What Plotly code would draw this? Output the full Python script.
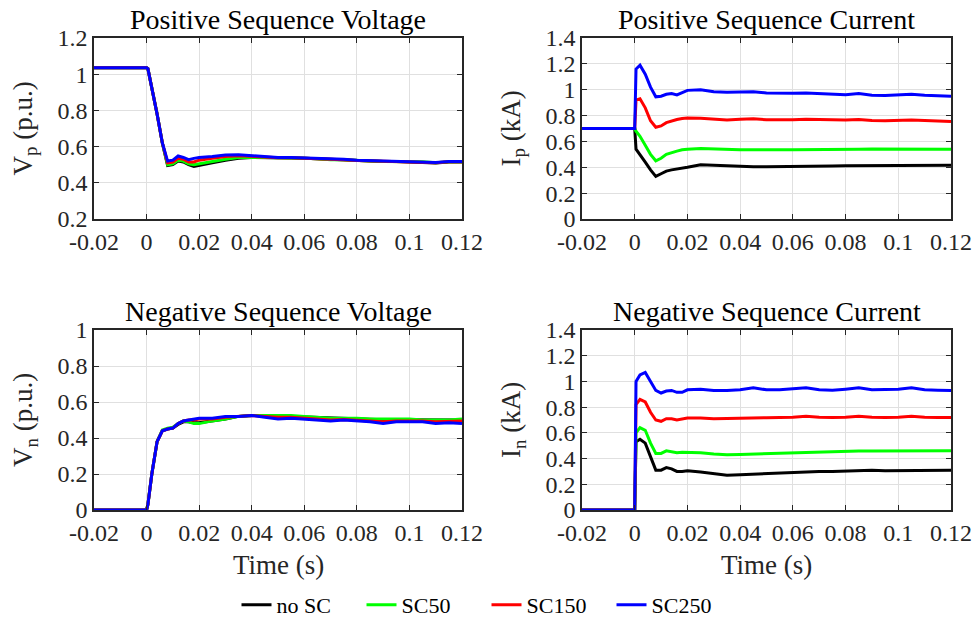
import plotly.graph_objects as go

# ---- data ----
t = [-0.02, 0.0, 0.0005, 0.002, 0.004, 0.006, 0.008, 0.010, 0.012, 0.014, 0.016, 0.018,
     0.020, 0.025, 0.030, 0.035, 0.040, 0.045, 0.050, 0.055, 0.060, 0.065, 0.070, 0.075,
     0.080, 0.085, 0.090, 0.095, 0.100, 0.105, 0.110, 0.115, 0.120]

x_tickvals = [-0.02, 0, 0.02, 0.04, 0.06, 0.08, 0.1, 0.12]
x_ticktext = ["-0.02", "0", "0.02", "0.04", "0.06", "0.08", "0.1", "0.12"]

series_names = ["no SC", "SC50", "SC150", "SC250"]
series_colors = ["#000000", "#00ff00", "#ff0000", "#0000ff"]

vp_noSC = [1.035, 1.035, 1.03, 0.93, 0.78, 0.62, 0.495, 0.50, 0.52, 0.515, 0.50, 0.49,
           0.495, 0.51, 0.525, 0.535, 0.54, 0.54, 0.537, 0.537, 0.535, 0.532, 0.527, 0.527,
           0.522, 0.52, 0.517, 0.517, 0.515, 0.515, 0.51, 0.515, 0.515]
vp_sc50 = [1.035, 1.035, 1.03, 0.93, 0.78, 0.62, 0.50, 0.505, 0.525, 0.52, 0.505, 0.50,
           0.505, 0.52, 0.53, 0.54, 0.542, 0.54, 0.538, 0.538, 0.536, 0.533, 0.528, 0.528,
           0.523, 0.521, 0.518, 0.518, 0.516, 0.516, 0.511, 0.516, 0.516]
vp_sc150 = [1.035, 1.035, 1.03, 0.93, 0.78, 0.62, 0.51, 0.515, 0.535, 0.53, 0.515, 0.515,
            0.525, 0.535, 0.545, 0.55, 0.545, 0.542, 0.538, 0.538, 0.536, 0.533, 0.528, 0.528,
            0.523, 0.521, 0.518, 0.518, 0.516, 0.516, 0.511, 0.516, 0.516]
vp_sc250 = [1.035, 1.035, 1.03, 0.93, 0.78, 0.62, 0.52, 0.525, 0.548, 0.54, 0.528, 0.535,
            0.54, 0.545, 0.553, 0.555, 0.55, 0.545, 0.54, 0.54, 0.538, 0.535, 0.53, 0.53,
            0.525, 0.523, 0.52, 0.52, 0.518, 0.518, 0.512, 0.518, 0.518]

ip_noSC = [0.70, 0.70, 0.54, 0.50, 0.44, 0.38, 0.33, 0.35, 0.37, 0.38, 0.385, 0.395,
           0.40, 0.42, 0.415, 0.41, 0.41, 0.405, 0.405, 0.405, 0.41, 0.41, 0.41, 0.41,
           0.412, 0.413, 0.415, 0.415, 0.415, 0.415, 0.415, 0.415, 0.415]
ip_sc50 = [0.70, 0.70, 0.68, 0.64, 0.57, 0.50, 0.45, 0.47, 0.50, 0.515, 0.525, 0.535,
           0.54, 0.545, 0.54, 0.535, 0.535, 0.535, 0.533, 0.535, 0.535, 0.535, 0.537, 0.537,
           0.54, 0.54, 0.542, 0.542, 0.545, 0.545, 0.543, 0.542, 0.54]
ip_sc150 = [0.70, 0.70, 0.92, 0.93, 0.86, 0.76, 0.71, 0.72, 0.745, 0.76, 0.77, 0.778,
            0.782, 0.78, 0.77, 0.765, 0.772, 0.775, 0.768, 0.765, 0.767, 0.772, 0.768, 0.765,
            0.765, 0.77, 0.762, 0.76, 0.765, 0.765, 0.762, 0.76, 0.755]
ip_sc250 = [0.70, 0.70, 1.16, 1.19, 1.12, 1.02, 0.945, 0.95, 0.965, 0.97, 0.96, 0.98,
            0.995, 1.0, 0.985, 0.98, 0.983, 0.985, 0.975, 0.972, 0.972, 0.975, 0.97, 0.962,
            0.962, 0.97, 0.958, 0.955, 0.96, 0.965, 0.958, 0.955, 0.95]

vn_noSC = [0.0, 0.0, 0.03, 0.20, 0.38, 0.44, 0.45, 0.455, 0.475, 0.49, 0.49, 0.485,
           0.485, 0.495, 0.505, 0.52, 0.525, 0.525, 0.522, 0.522, 0.52, 0.515, 0.512, 0.51,
           0.508, 0.505, 0.502, 0.502, 0.502, 0.5, 0.5, 0.5, 0.50]
vn_sc50 = [0.0, 0.0, 0.03, 0.20, 0.38, 0.445, 0.455, 0.46, 0.48, 0.495, 0.49, 0.48,
           0.48, 0.495, 0.505, 0.52, 0.525, 0.525, 0.525, 0.525, 0.52, 0.515, 0.51, 0.51,
           0.51, 0.505, 0.505, 0.505, 0.505, 0.5, 0.5, 0.5, 0.505]
vn_sc150 = [0.0, 0.0, 0.03, 0.20, 0.38, 0.44, 0.45, 0.455, 0.48, 0.495, 0.50, 0.50,
            0.505, 0.505, 0.515, 0.52, 0.525, 0.52, 0.515, 0.515, 0.51, 0.505, 0.5, 0.503,
            0.5, 0.497, 0.49, 0.495, 0.495, 0.495, 0.49, 0.493, 0.495]
vn_sc250 = [0.0, 0.0, 0.03, 0.20, 0.38, 0.44, 0.45, 0.455, 0.48, 0.495, 0.50, 0.505,
            0.51, 0.51, 0.52, 0.52, 0.525, 0.515, 0.505, 0.51, 0.505, 0.50, 0.495, 0.50,
            0.495, 0.49, 0.48, 0.49, 0.49, 0.49, 0.48, 0.485, 0.48]

in_noSC = [0.0, 0.0, 0.53, 0.55, 0.52, 0.42, 0.31, 0.31, 0.33, 0.32, 0.30, 0.30,
           0.305, 0.295, 0.28, 0.27, 0.275, 0.28, 0.28, 0.285, 0.29, 0.295, 0.30, 0.30,
           0.305, 0.305, 0.31, 0.305, 0.305, 0.305, 0.308, 0.31, 0.31]
in_sc50 = [0.0, 0.0, 0.60, 0.64, 0.62, 0.52, 0.44, 0.44, 0.46, 0.455, 0.445, 0.45,
           0.45, 0.445, 0.435, 0.43, 0.432, 0.435, 0.44, 0.44, 0.445, 0.45, 0.452, 0.455,
           0.458, 0.458, 0.458, 0.458, 0.458, 0.458, 0.46, 0.46, 0.46]
in_sc150 = [0.0, 0.0, 0.82, 0.86, 0.84, 0.76, 0.70, 0.69, 0.71, 0.71, 0.70, 0.705,
            0.715, 0.715, 0.71, 0.712, 0.715, 0.72, 0.718, 0.72, 0.722, 0.73, 0.722, 0.72,
            0.722, 0.73, 0.722, 0.72, 0.722, 0.73, 0.722, 0.72, 0.72]
in_sc250 = [0.0, 0.0, 1.00, 1.05, 1.07, 1.00, 0.93, 0.91, 0.925, 0.93, 0.915, 0.915,
            0.935, 0.94, 0.93, 0.93, 0.935, 0.95, 0.935, 0.935, 0.94, 0.95, 0.935, 0.932,
            0.94, 0.95, 0.935, 0.935, 0.94, 0.95, 0.935, 0.932, 0.93]

panels = [
    ("Positive Sequence Voltage", "V<sub>p</sub> (p.u.)", [vp_noSC, vp_sc50, vp_sc150, vp_sc250], [0.2, 1.2]),
    ("Positive Sequence Current", "I<sub>p</sub> (kA)", [ip_noSC, ip_sc50, ip_sc150, ip_sc250], [0, 1.4]),
    ("Negative Sequence Voltage", "V<sub>n</sub> (p.u.)", [vn_noSC, vn_sc50, vn_sc150, vn_sc250], [0, 1.0]),
    ("Negative Sequence Current", "I<sub>n</sub> (kA)", [in_noSC, in_sc50, in_sc150, in_sc250], [0, 1.4]),
]

W, H = 973, 618
FONT = "Liberation Serif"
TXT = "#262626"
# plot-area pixel boxes (left, right, top, bottom)
boxes = [(94, 462, 38, 219), (582, 951, 38, 219), (94, 462, 330, 510), (582, 951, 330, 510)]

fig = go.Figure()
annotations = []
for i, (title, ytitle, data, yr) in enumerate(panels):
    l, r, tp, b = boxes[i]
    xa = "xaxis" if i == 0 else f"xaxis{i+1}"
    ya = "yaxis" if i == 0 else f"yaxis{i+1}"
    xref = "x" if i == 0 else f"x{i+1}"
    yref = "y" if i == 0 else f"y{i+1}"
    for k in range(4):
        fig.add_trace(go.Scatter(
            x=t, y=data[k], mode="lines", name=series_names[k],
            line=dict(color=series_colors[k], width=3),
            xaxis=xref, yaxis=yref, showlegend=(i == 0),
        ))
    axis_common = dict(
        showline=True, mirror="ticks", linecolor=TXT, linewidth=1.5,
        ticks="inside", ticklen=5, tickcolor=TXT, automargin=False,
        showgrid=True, gridcolor="#e0e0e0", gridwidth=1, zeroline=False,
        tickfont=dict(family=FONT, size=24, color=TXT),
    )
    fig.update_layout({
        xa: dict(axis_common, domain=[l / W, r / W], range=[-0.02, 0.12],
                 tickmode="array", tickvals=x_tickvals, ticktext=x_ticktext, anchor=yref),
        ya: dict(axis_common, domain=[1 - b / H, 1 - tp / H], range=yr, dtick=0.2,
                 tick0=0, anchor=xref, tickformat="~g"),
    })
    annotations.append(dict(
        text=title, x=(l + r) / 2 / W, y=1 - (tp - 19) / H, xref="paper", yref="paper",
        xanchor="center", yanchor="middle", showarrow=False,
        font=dict(family=FONT, size=28, color="#000000")))
    annotations.append(dict(
        text=ytitle, x=(l - 69) / W, y=1 - (tp + b) / 2 / H, xref="paper", yref="paper",
        xanchor="center", yanchor="middle", textangle=-90, showarrow=False,
        font=dict(family=FONT, size=27, color=TXT)))
    if i >= 2:
        annotations.append(dict(
            text="Time (s)", x=(l + r) / 2 / W, y=1 - 565 / H, xref="paper", yref="paper",
            xanchor="center", yanchor="middle", showarrow=False,
            font=dict(family=FONT, size=27, color=TXT)))

fig.update_layout(
    width=W, height=H, margin=dict(l=0, r=0, t=0, b=0, autoexpand=False),
    paper_bgcolor="white", plot_bgcolor="white",
    annotations=annotations,
    legend=dict(orientation="h", x=0.5, xanchor="center", y=1 - 605 / H, yanchor="middle",
                font=dict(family=FONT, size=22, color="#000000"),
                bgcolor="rgba(0,0,0,0)", entrywidth=80, entrywidthmode="pixels",
                tracegroupgap=0),
    font=dict(family=FONT, color=TXT),
)

fig.write_html("out.html")
